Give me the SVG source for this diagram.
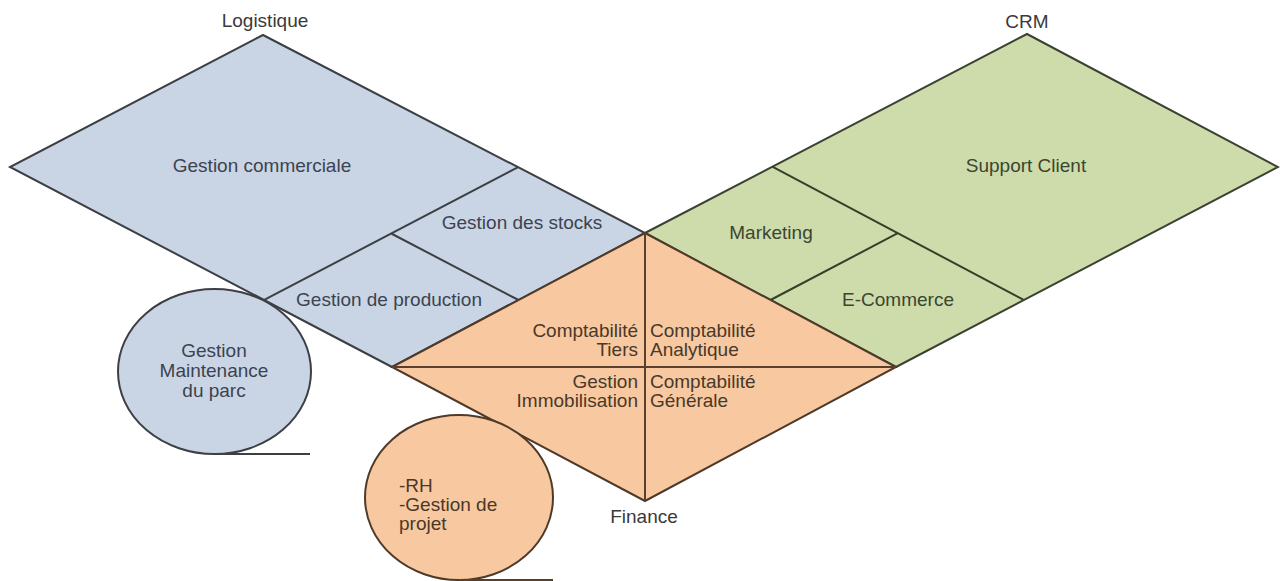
<svg xmlns="http://www.w3.org/2000/svg" width="1280" height="581" viewBox="0 0 1280 581">
<style>
.blue{fill:#c9d5e4;stroke:#3c3f44;stroke-width:2;stroke-linejoin:miter}
.green{fill:#cedcab;stroke:#3b4232;stroke-width:2}
.orange{fill:#f8c9a1;stroke:#4f3a2a;stroke-width:2}
.ln{fill:none;stroke-width:2}
.lb{stroke:#3c3f44}
.lg{stroke:#34402a}
.lo{stroke:#5a402c}
text{font-family:"Liberation Sans",Arial,sans-serif;font-size:19px;fill:#3a3a3a}
.m{text-anchor:middle}
.e{text-anchor:end}
.tb{fill:#3c4350}
.tg{fill:#3a4630}
.to{fill:#4a3828}
</style>
<g id="logistique">
<polygon class="blue" points="263,35 645,233 392,367 10,167"/>
<path class="ln lb" d="M517.7,167.3 L264.7,299.7 M391.2,233.5 L518.5,300"/>
<text class="m" x="265" y="27">Logistique</text>
<text class="m tb" x="262" y="172">Gestion commerciale</text>
<text class="m tb" x="522" y="229">Gestion des stocks</text>
<text class="m tb" x="389" y="306">Gestion de production</text>
</g>
<g id="crm">
<polygon class="green" points="645,233 1027,34 1278,167 896,367"/>
<path class="ln lg" d="M772.3,166.7 L1023.3,299.7 M897.8,233.2 L770.5,300"/>
<text class="m" x="1027" y="28">CRM</text>
<text class="m tg" x="1026" y="172">Support Client</text>
<text class="m tg" x="771" y="239">Marketing</text>
<text class="m tg" x="898" y="306">E-Commerce</text>
</g>
<g id="finance">
<polygon class="orange" points="645,233 896,367 645,501 392,367"/>
<path class="ln lo" d="M645,233 L645,501 M392,367 L896,367"/>
<text class="e to" x="638" y="337">Comptabilité</text>
<text class="e to" x="638" y="356">Tiers</text>
<text class="e to" x="638" y="388">Gestion</text>
<text class="e to" x="638" y="407">Immobilisation</text>
<text class="to" x="650" y="337">Comptabilité</text>
<text class="to" x="650" y="356">Analytique</text>
<text class="to" x="650" y="388">Comptabilité</text>
<text class="to" x="650" y="407">Générale</text>
<text class="m" x="644" y="523">Finance</text>
</g>
<g id="maintenance">
<ellipse class="blue" cx="214.5" cy="371.5" rx="96.5" ry="82.5"/>
<line class="ln lb" x1="214" y1="454" x2="310" y2="454"/>
<text class="m tb" x="214" y="357">Gestion</text>
<text class="m tb" x="214" y="377">Maintenance</text>
<text class="m tb" x="214" y="397">du parc</text>
</g>
<g id="rh">
<ellipse class="orange" cx="459" cy="497.5" rx="94" ry="82.5"/>
<line class="ln lo" x1="459" y1="580" x2="553" y2="580"/>
<text class="to" x="399" y="492">-RH</text>
<text class="to" x="399" y="511">-Gestion de</text>
<text class="to" x="399" y="530">projet</text>
</g>
</svg>
